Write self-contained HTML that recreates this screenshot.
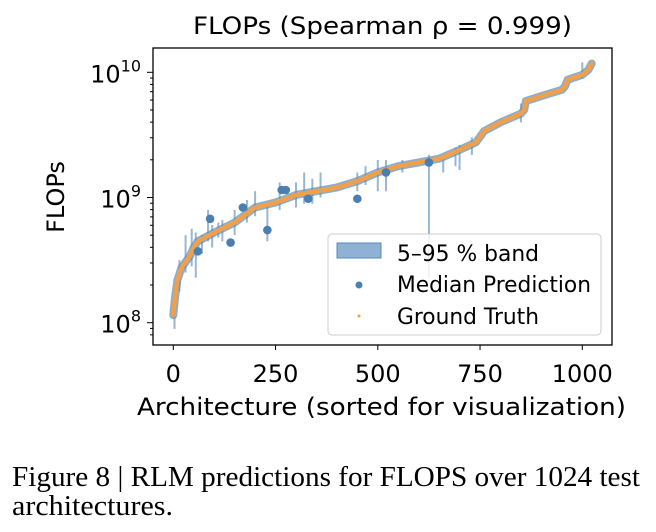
<!DOCTYPE html>
<html><head><meta charset="utf-8"><style>
body{margin:0;background:#fff;width:656px;height:532px;overflow:hidden}
svg{display:block}
</style></head><body>
<svg id="chart" width="656" height="532" viewBox="0 0 656 532" xmlns="http://www.w3.org/2000/svg" font-family="DejaVu Sans,Liberation Sans,sans-serif">
<g id="plot"></g>
</svg>
<script>
const gtIdx=[0,2,5,10,20,40,50,60,100,150,200,250,300,350,400,450,500,550,600,650,700,740,760,800,850,858,862,900,950,958,964,1000,1015,1023];
const gtLog=[8.06,8.13,8.22,8.34,8.44,8.53,8.60,8.65,8.72,8.80,8.92,8.96,9.02,9.05,9.08,9.13,9.20,9.25,9.28,9.31,9.38,9.44,9.53,9.60,9.67,9.70,9.77,9.81,9.86,9.89,9.94,9.98,10.02,10.07];
const outIdx=[60,90,140,170,230,265,275,330,450,520,625];
const outLog=[8.57,8.83,8.64,8.92,8.74,9.06,9.06,8.99,8.99,9.20,9.28];
const barIdx=[3,15,30,45,55,70,85,95,110,120,150,180,200,230,260,300,320,340,360,450,470,500,520,560,625,660,690,700,730,850,1000];
const barLo=[7.95,8.25,8.40,8.45,8.36,8.55,8.65,8.60,8.68,8.65,8.70,8.80,8.85,8.65,8.90,8.92,8.95,8.95,9.00,9.05,9.10,9.05,9.05,9.20,8.36,9.20,9.25,9.22,9.34,9.60,9.95];
const barHi=[8.25,8.50,8.70,8.75,8.72,8.70,8.90,8.78,8.80,8.82,8.90,8.98,9.05,8.95,9.12,9.12,9.20,9.15,9.20,9.20,9.25,9.30,9.30,9.30,9.34,9.32,9.40,9.42,9.48,9.75,10.08];
const xTicks=[0,250,500,750,1000];
const yTicks=[8,9,10];

const NS="http://www.w3.org/2000/svg";
const L=153,R=612,T=48,B=345;
const x=v=>173.3+v*0.409;
const y=v=>72.3+(10-v)*125.2;
const g=document.getElementById('plot');
function el(t,a,p){const e=document.createElementNS(NS,t);for(const k in a)e.setAttribute(k,a[k]);(p||g).appendChild(e);return e;}

barIdx.forEach((b,i)=>{const e=el('line',{x1:x(b),x2:x(b),y1:y(barLo[i]),y2:y(barHi[i]),stroke:'#7fa6c9','stroke-width':2,opacity:0.8});

});
const pts=gtIdx.map((v,i)=>x(v)+','+y(gtLog[i])).join(' ');
let e=el('polyline',{points:pts,fill:'none',stroke:'#5b8bb8','stroke-width':8,'stroke-linejoin':'round','stroke-linecap':'round',opacity:0.7});


e=el('polyline',{points:pts,fill:'none',stroke:'#f0a04a','stroke-width':4.5,'stroke-linejoin':'round','stroke-linecap':'round'});


outIdx.forEach((o,i)=>{const c=el('circle',{cx:x(o),cy:y(outLog[i]),r:4.3,fill:'#4a7fb0'});

});
gtIdx.forEach((o,i)=>{const c=el('circle',{cx:x(o),cy:y(gtLog[i]),r:1.6,fill:'#f0a04a'});

});

e=el('rect',{x:L,y:T,width:R-L,height:B-T,fill:'none',stroke:'#000','stroke-width':1.3});


xTicks.forEach(t=>{el('line',{x1:x(t),x2:x(t),y1:B,y2:B+5,stroke:'#000'});
const tx=el('text',{x:x(t),y:B+37,'font-size':24,'text-anchor':'middle'});tx.textContent=t;

});
yTicks.forEach(t=>{el('line',{x1:L-6,x2:L,y1:y(t),y2:y(t),stroke:'#000'});
for(let m=2;m<10;m++){const yy=y(t+Math.log10(m));if(yy>T&&yy<B)el('line',{x1:L-3,x2:L,y1:yy,y2:yy,stroke:'#000'});}
const tx=el('text',{x:L-12,y:y(t)+10,'font-size':24,'text-anchor':'end'});tx.innerHTML='10<tspan dy="-11" font-size="16">'+t+'</tspan>';

});
for(let m=8;m<10;m++){el('line',{x1:L-3,x2:L,y1:y(7+Math.log10(m)),y2:y(7+Math.log10(m)),stroke:'#000'});}
</script>
<svg style="position:absolute;left:0;top:0" width="656" height="532" xmlns="http://www.w3.org/2000/svg" font-family="DejaVu Sans,sans-serif">
<text x="193" y="34" font-size="24" textLength="379" lengthAdjust="spacingAndGlyphs">FLOPs (Spearman ρ = 0.999)</text>
<text transform="translate(64,197) rotate(-90)" font-size="24" text-anchor="middle">FLOPs</text>
<text x="137" y="415" font-size="24" textLength="489" lengthAdjust="spacingAndGlyphs">Architecture (sorted for visualization)</text>
<g>
<rect x="328" y="234" width="273" height="101" rx="4" fill="#fff" fill-opacity="0.85" stroke="#ccc"/>
<rect x="337" y="243" width="44" height="15" fill="#8fb1d3" stroke="#5b8bb8"/>
<text x="397" y="261" font-size="22" textLength="142" lengthAdjust="spacingAndGlyphs">5–95 % band</text>
<circle cx="359" cy="285" r="3.5" fill="#4a7fb0"/>
<text x="397" y="292" font-size="22" textLength="194" lengthAdjust="spacingAndGlyphs">Median Prediction</text>
<circle cx="359" cy="316" r="1.5" fill="#f0a04a"/>
<text x="397" y="324" font-size="22" textLength="142" lengthAdjust="spacingAndGlyphs">Ground Truth</text>
</g>
<text x="12" y="486" font-size="28" font-family="Liberation Serif,serif" textLength="628" lengthAdjust="spacingAndGlyphs">Figure 8 | RLM predictions for FLOPS over 1024 test</text>
<text x="12" y="515" font-size="28" font-family="Liberation Serif,serif" textLength="161" lengthAdjust="spacingAndGlyphs">architectures.</text>
</svg>
</body></html>
